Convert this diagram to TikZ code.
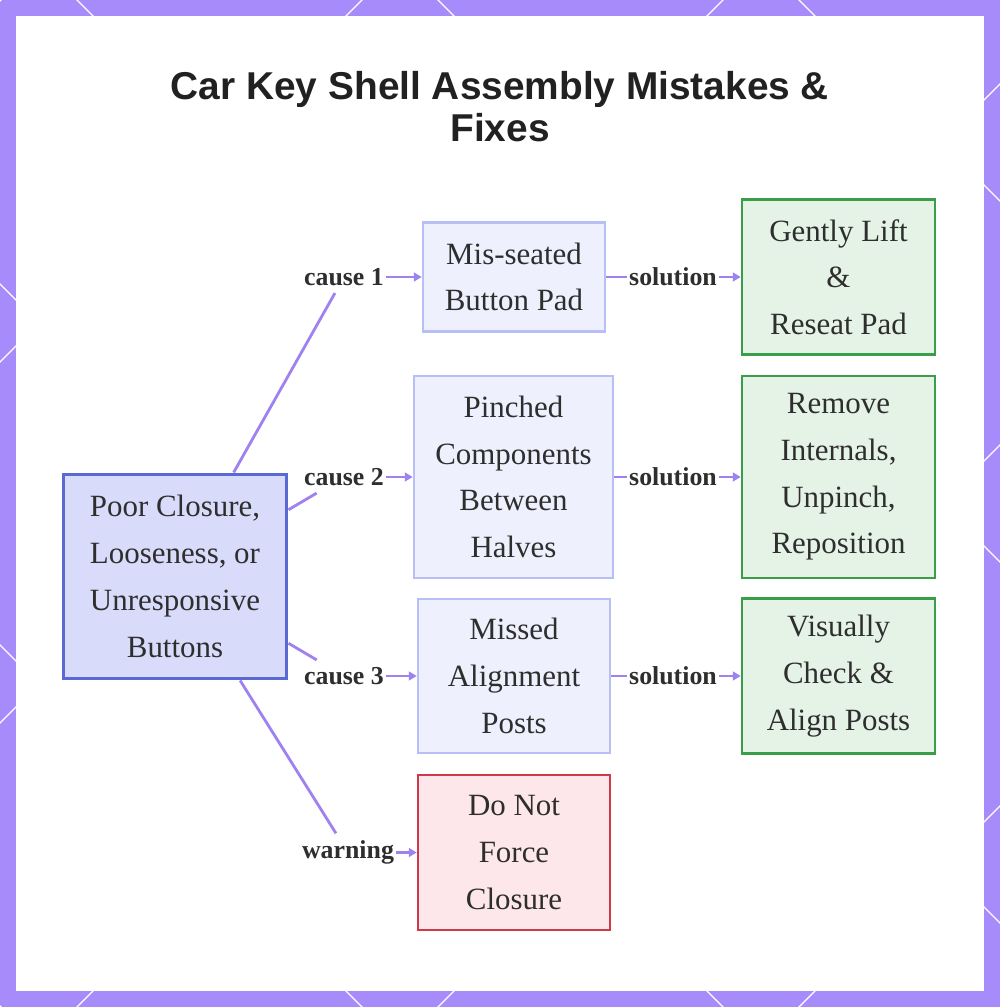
\documentclass[tikz,border=0pt]{standalone}
\usepackage{fontspec}
\setmainfont{Liberation Serif}
\newfontfamily\titlefont{Liberation Sans}
\usetikzlibrary{positioning,calc,arrows.meta}

\definecolor{framepurple}{HTML}{A78BFA}
\definecolor{wirepurple}{HTML}{9F82F0}
\definecolor{inkgray}{HTML}{2E2E2E}
\definecolor{rootfill}{HTML}{D8DCFA}
\definecolor{rootline}{HTML}{5A6AD4}
\definecolor{causefill}{HTML}{EEF0FD}
\definecolor{causeline}{HTML}{B7BFF4}
\definecolor{fixfill}{HTML}{E5F3E7}
\definecolor{fixline}{HTML}{3A9E48}
\definecolor{warnfill}{HTML}{FDE7EA}
\definecolor{warnline}{HTML}{CF3A4B}

\begin{document}
\begin{tikzpicture}[
            x=0.02cm, y=-0.02cm,
            box/.style={draw, rectangle, align=center, line width=1.5pt, text=inkgray,
                font=\fontsize{17.6}{26.6}\selectfont, inner sep=0pt},
            rootbox/.style={box, fill=rootfill, draw=rootline, line width=1.7pt},
            causebox/.style={box, fill=causefill, draw=causeline},
            fixbox/.style={box, fill=fixfill, draw=fixline},
            warnbox/.style={box, fill=warnfill, draw=warnline},
            tag/.style={fill=white, text=inkgray, inner xsep=1pt, inner ysep=4pt,
                font=\bfseries\fontsize{14.7}{17}\selectfont},
            wire/.style={draw=wirepurple, line width=1.6pt},
            arrow/.style={wire, -{Triangle[length=4.5pt, width=5pt]}}
        ]
        \useasboundingbox (0,0) rectangle (1000,1007);
        \fill[framepurple] (0,0) rectangle (1000,1007);
        \begin{scope}
            \clip (0,0) rectangle (1000,1007);
            \foreach \k in {-3,...,3}
                \draw[white, line width=0.7pt] (-100,{-177+361*\k}) -- (1100,{1023+361*\k});
            \foreach \k in {-1,...,4}
                \draw[white, line width=0.7pt] (-100,{462+361*\k}) -- (1100,{-738+361*\k});
        \end{scope}
        \fill[white] (16,16) rectangle (984,991);

        \node[font=\titlefont\bfseries\fontsize{22.1}{23.8}\selectfont, text=black!87, align=center]
            (title) at (500,107) {Car Key Shell Assembly Mistakes \&\\Fixes};

        \node[rootbox, minimum width=4.48cm, minimum height=4.1cm] (root) at (175,576.5)
            {Poor Closure,\\Looseness, or\\Unresponsive\\Buttons};

        \node[causebox, minimum width=3.64cm, minimum height=2.18cm] (pad) at (514,277)
            {Mis-seated\\Button Pad};
        \node[causebox, minimum width=3.98cm, minimum height=4.04cm] (pinch) at (513.5,477)
            {Pinched\\Components\\Between\\Halves};
        \node[causebox, minimum width=3.84cm, minimum height=3.08cm] (posts) at (514,676)
            {Missed\\Alignment\\Posts};
        \node[warnbox, minimum width=3.84cm, minimum height=3.1cm] (force) at (514,852.5)
            {Do Not\\Force\\Closure};

        \node[fixbox, minimum width=3.86cm, minimum height=3.1cm] (reseat) at (838.5,277)
            {Gently Lift\\\&\\Reseat Pad};
        \node[fixbox, minimum width=3.86cm, minimum height=4.04cm] (unpinch) at (838.5,477)
            {Remove\\Internals,\\Unpinch,\\Reposition};
        \node[fixbox, minimum width=3.86cm, minimum height=3.1cm] (align) at (838.5,676)
            {Visually\\Check \&\\Align Posts};

        \node[tag] (c1) at (344,277) {cause 1};
        \node[tag] (c2) at (344,477) {cause 2};
        \node[tag] (c3) at (344,676) {cause 3};
        \node[tag] (w) at (348,852.5) {warning};
        \node[tag] (s1) at (673,277) {solution};
        \node[tag] (s2) at (673,477) {solution};
        \node[tag] (s3) at (673,676) {solution};

        \draw[wire] (root) -- (c1);
        \draw[wire] (root) -- (c2);
        \draw[wire] (root) -- (c3);
        \draw[wire] (root) -- (w);
        \draw[arrow] (c1) -- (pad);
        \draw[arrow] (c2) -- (pinch);
        \draw[arrow] (c3) -- (posts);
        \draw[arrow] (w) -- (force);

        \draw[wire] (pad) -- (s1);
        \draw[wire] (pinch) -- (s2);
        \draw[wire] (posts) -- (s3);
        \draw[arrow] (s1) -- (reseat);
        \draw[arrow] (s2) -- (unpinch);
        \draw[arrow] (s3) -- (align);
    \end{tikzpicture}
\end{document}
